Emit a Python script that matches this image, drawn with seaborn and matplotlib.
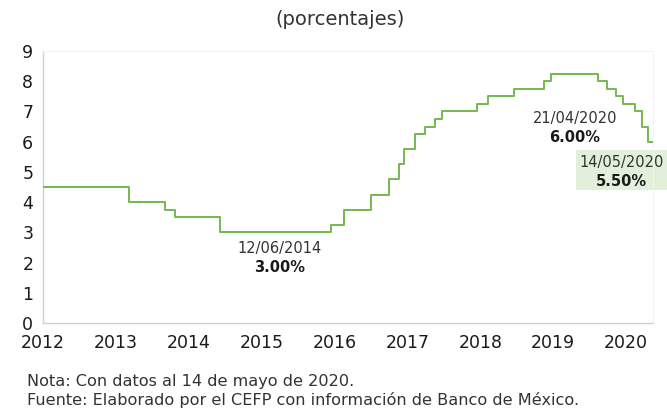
import pandas as pd
import seaborn as sns
import matplotlib.pyplot as plt

# fechas de cambio de la tasa objetivo y su nivel (%)
fechas = ['2012-01-01', '2013-03-08', '2013-09-06', '2013-10-25', '2014-06-06',
          '2015-12-17', '2016-02-17', '2016-06-30', '2016-09-29', '2016-11-17',
          '2016-12-15', '2017-02-09', '2017-03-30', '2017-05-18', '2017-06-22',
          '2017-12-14', '2018-02-08', '2018-06-21', '2018-11-15', '2018-12-20',
          '2019-08-15', '2019-09-26', '2019-11-14', '2019-12-19', '2020-02-13',
          '2020-03-20', '2020-04-21', '2020-05-13']
tasas = [4.50, 4.00, 3.75, 3.50, 3.00,
         3.25, 3.75, 4.25, 4.75, 5.25,
         5.75, 6.25, 6.50, 6.75, 7.00,
         7.25, 7.50, 7.75, 8.00, 8.25,
         8.00, 7.75, 7.50, 7.25, 7.00,
         6.50, 6.00, 6.00]
anios = list(range(2012, 2021))
y_ticks = list(range(0, 10))

df = pd.DataFrame({'fecha': pd.to_datetime(fechas), 'tasa': tasas})
# fecha como año decimal
df['x'] = df['fecha'].dt.year + (df['fecha'].dt.dayofyear - 1) / 365.25

sns.set_theme(style='white')
plt.rcParams['font.family'] = ['DejaVu Sans']

fig = plt.figure(figsize=(6.67, 4.09), dpi=100)
ax = fig.add_axes([0.0645, 0.2103, 0.9145, 0.665])

sns.lineplot(data=df, x='x', y='tasa', ax=ax, color='#74b94f', linewidth=1.4,
             drawstyle='steps-post', zorder=3)

ax.set_xlim(2012, 2020.37)
ax.set_ylim(0, 9)
ax.set_xticks(anios)
ax.set_xticklabels([str(a) for a in anios], fontsize=12.5, color='#1a1a1a')
ax.set_yticks(y_ticks)
ax.set_yticklabels([str(v) for v in y_ticks], fontsize=12.5, color='#1a1a1a')
ax.set_xlabel('')
ax.set_ylabel('')

for s in ['top', 'right']:
    ax.spines[s].set_color('#f3f3f3')
    ax.spines[s].set_linewidth(0.8)
for s in ['left', 'bottom']:
    ax.spines[s].set_color('#d0d0d0')
    ax.spines[s].set_linewidth(1.0)
ax.tick_params(axis='x', length=5, color='#d0d0d0', width=1, direction='out', pad=3)
ax.tick_params(axis='y', length=4, color='#d0d0d0', width=1, direction='out', pad=3)

# recuadro de la última observación
caja = plt.Rectangle((576 / 667, 1 - 190 / 409), 91 / 667, 40 / 409,
                     transform=fig.transFigure, facecolor='#e2efda',
                     edgecolor='none', zorder=1, clip_on=False)
ax.add_patch(caja)

# anotaciones
ax.text(2015.24, 2.48, '12/06/2014', ha='center', va='center', fontsize=10.5, color='#333333')
ax.text(2015.24, 1.85, '3.00%', ha='center', va='center', fontsize=10.5, fontweight='bold', color='#1a1a1a')
ax.text(2019.30, 6.75, '21/04/2020', ha='center', va='center', fontsize=10.5, color='#333333')
ax.text(2019.30, 6.14, '6.00%', ha='center', va='center', fontsize=10.5, fontweight='bold', color='#1a1a1a')
ax.text(2019.94, 5.30, '14/05/2020', ha='center', va='center', fontsize=10.5, color='#333333',
        clip_on=False, zorder=4)
ax.text(2019.94, 4.67, '5.50%', ha='center', va='center', fontsize=10.5, fontweight='bold',
        color='#1a1a1a', clip_on=False, zorder=4)

fig.text(0.51, 0.953, '(porcentajes)', ha='center', va='center', fontsize=14, color='#333333')
fig.text(0.04, 0.068, 'Nota: Con datos al 14 de mayo de 2020.', ha='left', va='center',
         fontsize=11.6, color='#333333')
fig.text(0.04, 0.022, 'Fuente: Elaborado por el CEFP con información de Banco de México.',
         ha='left', va='center', fontsize=11.6, color='#333333')

fig.savefig('out.png', dpi=100)
